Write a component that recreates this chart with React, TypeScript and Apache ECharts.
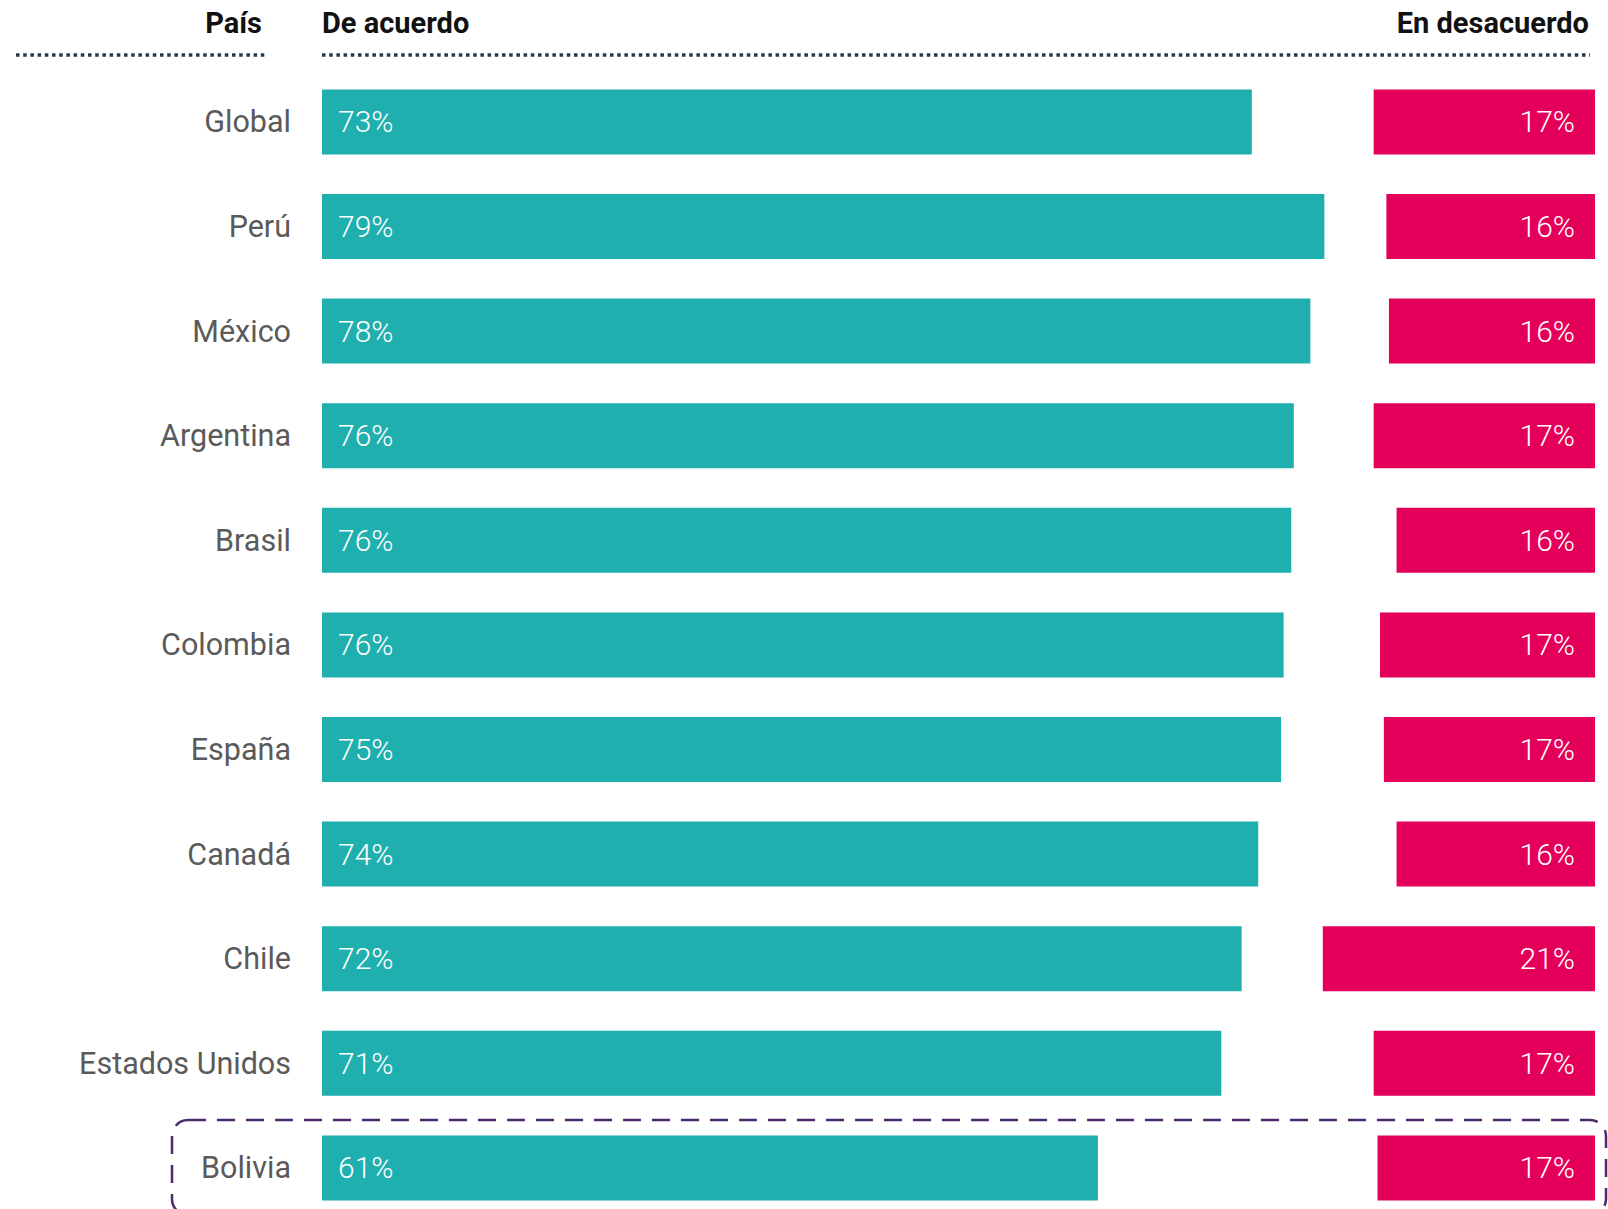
import React, { useEffect, useRef } from "react";
import * as echarts from "echarts";

const categories = [
  "Global",
  "Perú",
  "México",
  "Argentina",
  "Brasil",
  "Colombia",
  "España",
  "Canadá",
  "Chile",
  "Estados Unidos",
  "Bolivia",
];
const agreeValues = [73.1, 78.8, 77.7, 76.4, 76.2, 75.6, 75.4, 73.6, 72.3, 70.7, 61.0];
const disagreeValues = [17.4, 16.4, 16.2, 17.4, 15.6, 16.9, 16.6, 15.6, 21.4, 17.4, 17.1];

const headerCountry = "País";
const headerAgree = "De acuerdo";
const headerDisagree = "En desacuerdo";

const TEAL = "#1eafae";
const PINK = "#e4005a";
const FONT = "Roboto, 'Noto Sans', sans-serif";

export default function App() {
  const ref = useRef<HTMLDivElement>(null);

  useEffect(() => {
    document.body.style.margin = "0";
    if (!ref.current) return;
    const chart = echarts.init(ref.current, null, { renderer: "svg" });

    const fmt = (p: any) => Math.round(p.value) + "%";

    chart.setOption({
      animation: false,
      backgroundColor: "#ffffff",
      textStyle: { fontFamily: FONT },
      grid: [
        { left: 322, top: 69.6, width: 1017.6, height: 1150.6, containLabel: false },
        { right: 13, top: 69.6, width: 318, height: 1150.6, containLabel: false },
      ],
      xAxis: [
        { type: "value", gridIndex: 0, min: 0, max: 80, show: false },
        { type: "value", gridIndex: 1, min: 0, max: 25, inverse: true, show: false },
      ],
      yAxis: [
        {
          type: "category",
          gridIndex: 0,
          data: categories,
          inverse: true,
          axisLine: { show: false },
          axisTick: { show: false },
          splitLine: { show: false },
          axisLabel: {
            fontSize: 30.5,
            color: "#5a5a5a",
            margin: 31,
            fontFamily: FONT,
          },
        },
        {
          type: "category",
          gridIndex: 1,
          data: categories,
          inverse: true,
          show: false,
        },
      ],
      series: [
        {
          type: "bar",
          xAxisIndex: 0,
          yAxisIndex: 0,
          data: agreeValues,
          barWidth: 65,
          itemStyle: { color: TEAL },
          label: {
            show: true,
            position: "insideLeft",
            distance: 16,
            formatter: fmt,
            color: "#ffffff",
            fontSize: 30,
            fontWeight: 300,
            fontFamily: FONT,
          },
        },
        {
          type: "bar",
          xAxisIndex: 1,
          yAxisIndex: 1,
          data: disagreeValues,
          barWidth: 65,
          itemStyle: { color: PINK },
          label: {
            show: true,
            position: "insideRight",
            distance: 20,
            formatter: fmt,
            color: "#ffffff",
            fontSize: 30,
            fontWeight: 300,
            fontFamily: FONT,
          },
        },
      ],
      graphic: [
        {
          type: "text",
          x: 262,
          y: 23,
          style: {
            text: headerCountry,
            fontSize: 29,
            fontWeight: "bold",
            fontFamily: FONT,
            fill: "#111111",
            align: "right",
            verticalAlign: "middle",
          },
        },
        {
          type: "text",
          x: 322,
          y: 23,
          style: {
            text: headerAgree,
            fontSize: 29,
            fontWeight: "bold",
            fontFamily: FONT,
            fill: "#111111",
            align: "left",
            verticalAlign: "middle",
          },
        },
        {
          type: "text",
          x: 1589,
          y: 23,
          style: {
            text: headerDisagree,
            fontSize: 29,
            fontWeight: "bold",
            fontFamily: FONT,
            fill: "#111111",
            align: "right",
            verticalAlign: "middle",
          },
        },
        {
          type: "line",
          shape: { x1: 16, y1: 55, x2: 268, y2: 55 },
          style: { stroke: "#1f3d4d", lineWidth: 3.5, lineDash: [3.5, 3.7] },
        },
        {
          type: "line",
          shape: { x1: 322, y1: 55, x2: 1590, y2: 55 },
          style: { stroke: "#1f3d4d", lineWidth: 3.5, lineDash: [3.5, 3.7] },
        },
        {
          type: "rect",
          shape: { x: 172, y: 1120, width: 1434, height: 95, r: 16 },
          style: {
            fill: "none",
            stroke: "#4a2b6e",
            lineWidth: 2.5,
            lineDash: [18, 11],
          },
        },
      ],
    });

    return () => chart.dispose();
  }, []);

  return (
    <div
      style={{
        position: "absolute",
        left: 0,
        top: 0,
        width: 1608,
        height: 1209,
        overflow: "hidden",
      }}
    >
      <div ref={ref} style={{ width: 1608, height: 1240 }} />
    </div>
  );
}
